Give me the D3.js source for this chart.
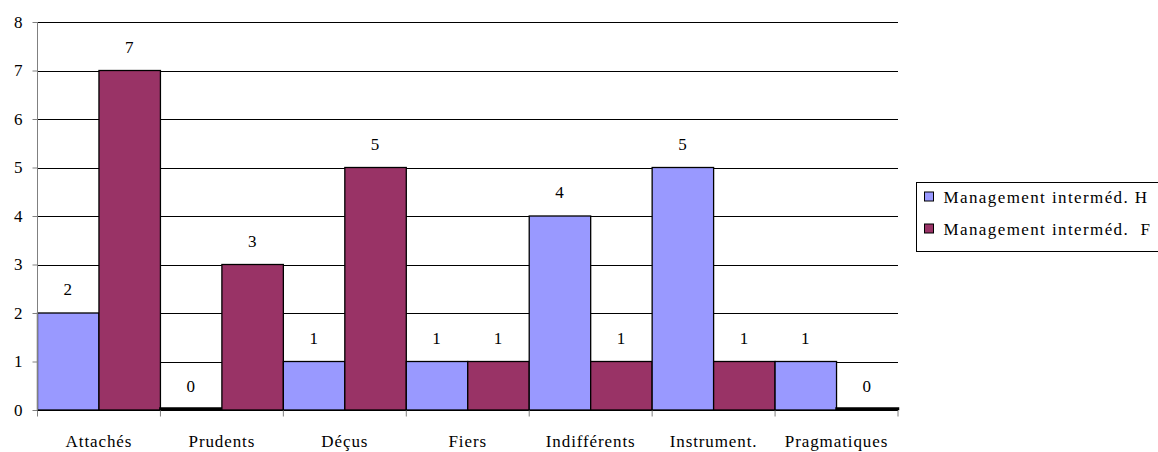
<!DOCTYPE html>
<html>
<head>
<meta charset="utf-8">
<script src="https://cdn.jsdelivr.net/npm/d3@7"></script>
<style>
  body { margin: 0; background: #fff; }
</style>
</head>
<body>
<div id="chart"></div>
<script>
var categories = ["Attachés", "Prudents", "Déçus", "Fiers", "Indifférents", "Instrument.", "Pragmatiques"];
var seriesNames = ["Management interméd. H", "Management interméd.  F"];
var valuesH = [2, 0, 1, 1, 4, 5, 1];
var valuesF = [7, 3, 5, 1, 1, 1, 0];
var yTicks = [0, 1, 2, 3, 4, 5, 6, 7, 8];
var colors = ["#9999ff", "#993366"];

var width = 1158, height = 452;
var plotLeft = 37.5, plotRight = 898, plotTop = 22, plotBottom = 410;
var fontFamily = "'Liberation Serif', 'Times New Roman', serif";
var fontSize = "17px";
var spacing = "0.9px";

var svg = d3.select("#chart").append("svg")
    .attr("width", width)
    .attr("height", height);

function styleText(sel) {
    sel.style("font-family", fontFamily)
        .style("font-size", fontSize)
        .style("letter-spacing", spacing)
        .style("fill", "#000");
}

var x = d3.scaleBand().domain(categories).range([plotLeft, plotRight]).padding(0);
var xs = d3.scaleBand().domain([0, 1]).range([0, x.bandwidth()]).padding(0);
var y = d3.scaleLinear().domain([0, 8]).range([plotBottom, plotTop]);

/* gridlines */
svg.append("g")
    .selectAll("line")
    .data(yTicks.filter(d => d > 0))
    .enter().append("line")
    .attr("x1", plotLeft).attr("x2", plotRight)
    .attr("y1", d => Math.round(y(d)) + 0.5)
    .attr("y2", d => Math.round(y(d)) + 0.5)
    .attr("stroke", "#000")
    .attr("stroke-width", 1);

/* bars */
var data = [];
categories.forEach(function (c, i) {
    data.push({cat: c, s: 0, v: valuesH[i]});
    data.push({cat: c, s: 1, v: valuesF[i]});
});

svg.append("g")
    .selectAll("rect")
    .data(data)
    .enter().append("rect")
    .attr("x", d => x(d.cat) + xs(d.s))
    .attr("y", d => d.v === 0 ? y(0) - 1.5 : y(d.v))
    .attr("width", xs.bandwidth())
    .attr("height", d => d.v === 0 ? 0.5 : y(0) - y(d.v))
    .attr("fill", d => colors[d.s])
    .attr("stroke", "#000")
    .attr("stroke-width", d => d.v === 0 ? 2.5 : 1.3);

/* value labels */
svg.append("g")
    .selectAll("text")
    .data(data)
    .enter().append("text")
    .attr("x", d => x(d.cat) + xs(d.s) + xs.bandwidth() / 2)
    .attr("y", d => y(d.v) - 18)
    .attr("text-anchor", "middle")
    .text(d => d.v)
    .call(styleText);

/* y axis */
var yAxis = d3.axisLeft(y).tickValues(yTicks).tickSize(5).tickPadding(9).tickFormat(d3.format("d"));
var ga = svg.append("g")
    .attr("transform", "translate(" + plotLeft + ",0)")
    .call(yAxis);
ga.select(".domain").attr("stroke", "#808080").attr("d", "M0," + plotTop + "V" + plotBottom);
ga.selectAll(".tick line").attr("stroke", "#808080");
ga.selectAll("text").call(styleText);

/* x axis */
var gx = svg.append("g")
    .attr("transform", "translate(0," + (plotBottom + 0.5) + ")");
gx.append("line")
    .attr("x1", plotLeft).attr("x2", plotRight)
    .attr("stroke", "#000");
gx.selectAll(".tk")
    .data(categories.concat(["end"]))
    .enter().append("line")
    .attr("class", "tk")
    .attr("x1", (d, i) => i < categories.length ? x(d) : plotRight)
    .attr("x2", (d, i) => i < categories.length ? x(d) : plotRight)
    .attr("y1", 0).attr("y2", 6)
    .attr("stroke", "#808080");
gx.selectAll("text")
    .data(categories)
    .enter().append("text")
    .attr("x", d => x(d) + x.bandwidth() / 2)
    .attr("y", 36)
    .attr("text-anchor", "middle")
    .text(d => d)
    .call(styleText);

/* legend */
var lg = svg.append("g").attr("transform", "translate(916.5,182.5)");
lg.append("rect")
    .attr("width", 260).attr("height", 69)
    .attr("fill", "#fff")
    .attr("stroke", "#000");
seriesNames.forEach(function (n, i) {
    var row = lg.append("g").attr("transform", "translate(8," + (14 + i * 32) + ")");
    row.append("rect")
        .attr("x", 0).attr("y", -4.5)
        .attr("width", 9).attr("height", 9)
        .attr("fill", colors[i])
        .attr("stroke", "#000");
    row.append("text")
        .attr("x", 19).attr("y", 6)
        .style("white-space", "pre")
        .text(n)
        .call(styleText)
        .style("letter-spacing", "1.4px");
});
</script>
</body>
</html>
